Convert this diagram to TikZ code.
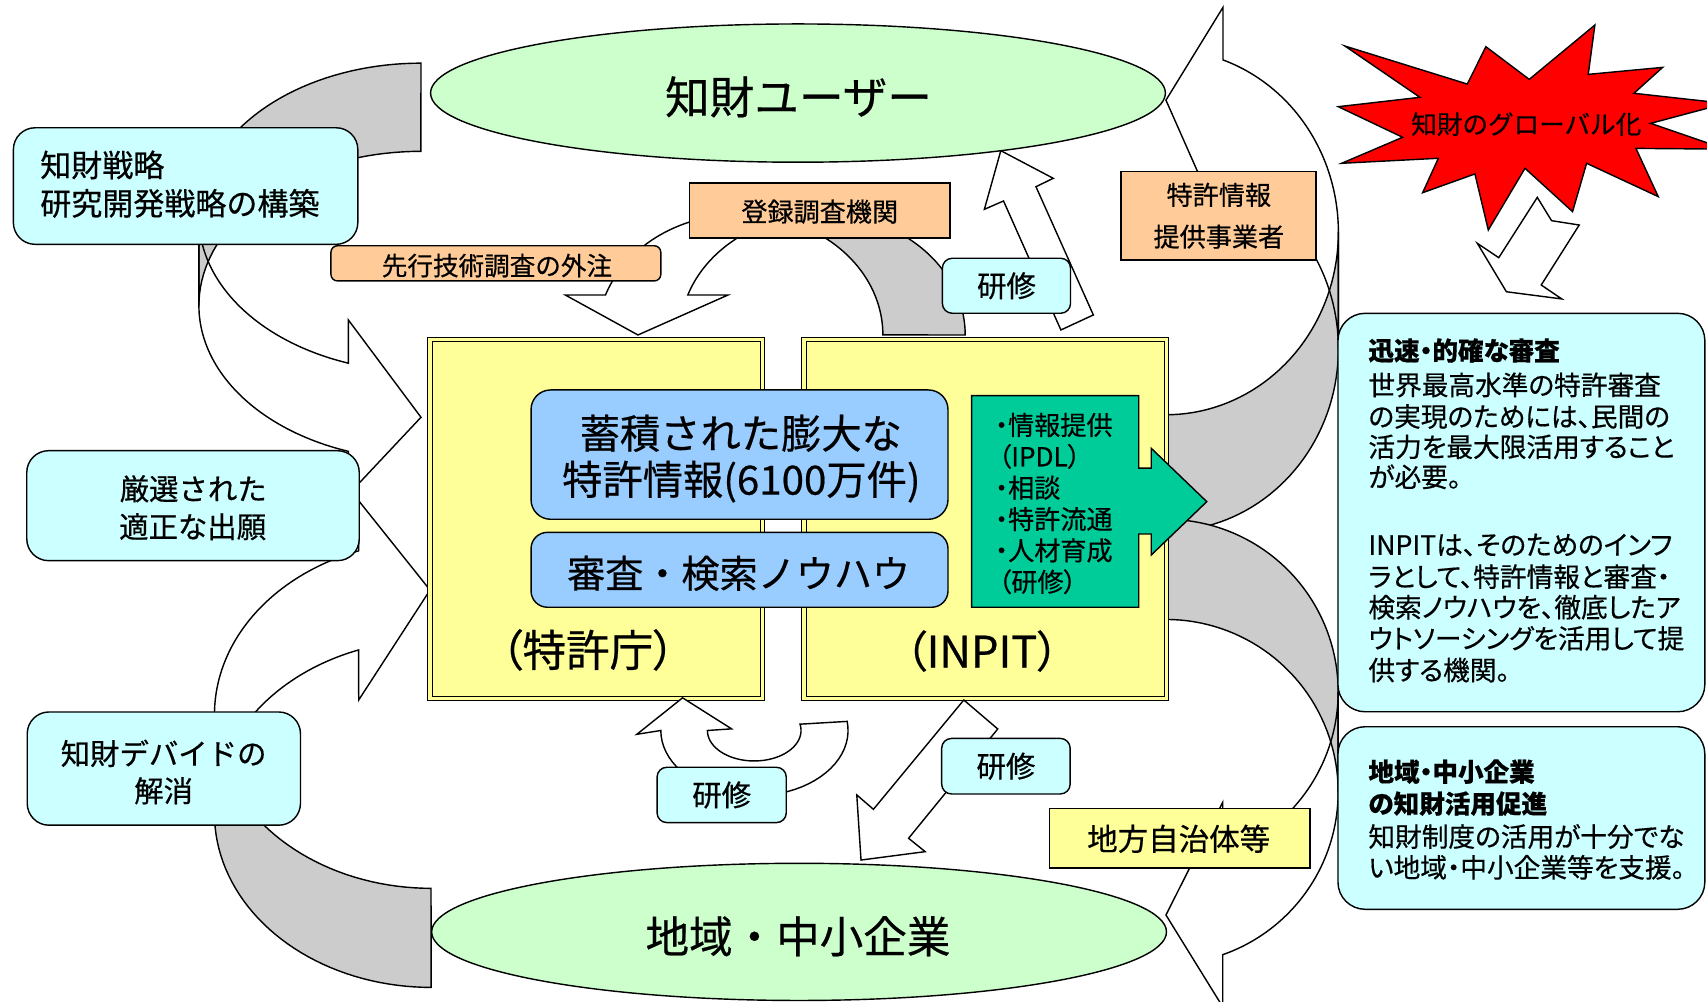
\documentclass[tikz,border=0pt]{standalone}
\usepackage{fontspec}
\setmainfont[FakeBold=0.5]{Noto Sans CJK JP}
\newfontfamily\pf[RawFeature=+palt,FakeBold=0.5]{Noto Sans CJK JP}
\usetikzlibrary{shapes.geometric}
\definecolor{cyanb}{HTML}{CCFFFF}
\definecolor{greenell}{HTML}{CCFFCC}
\definecolor{orangeb}{HTML}{FFCC99}
\definecolor{yellowb}{HTML}{FFFF99}
\definecolor{blueb}{HTML}{99CCFF}
\definecolor{tealb}{HTML}{00CC99}
\definecolor{grayb}{HTML}{CCCCCC}
\definecolor{redb}{HTML}{FF0000}
\tikzset{
 ln/.style={line width=1.3pt},
 tx/.style={inner sep=0pt,outer sep=0pt,font=\fontsize{#1}{#1}\selectfont},
 ptx/.style={inner sep=0pt,outer sep=0pt,font=\pf\fontsize{#1}{#1}\selectfont},
 btx/.style={inner sep=0pt,outer sep=0pt,font=\pf\bfseries\fontsize{#1}{#1}\selectfont},
 cyanbox/.style={draw,ln,fill=cyanb,rounded corners=20pt,inner sep=0pt,outer sep=0pt},
 kbox/.style={draw,ln,fill=cyanb,rounded corners=9pt,inner sep=0pt,outer sep=0pt,font=\fontsize{27}{27}\selectfont},
 orbox/.style={draw,ln,fill=orangeb,inner sep=0pt,outer sep=0pt},
 ylbox/.style={draw,ln,fill=yellowb,inner sep=0pt,outer sep=0pt},
 blbox/.style={draw,ln,fill=blueb,rounded corners=18pt,inner sep=0pt,outer sep=0pt},
 dbox/.style={draw=black,line width=1pt,double=yellowb,double distance=3.2pt,fill=yellowb,inner sep=0pt,outer sep=0pt},
 ell/.style={ellipse,draw,ln,fill=greenell,inner sep=0pt,outer sep=0pt},
 wht/.style={draw,ln,fill=white},
}
% curved ribbon arrow (PowerPoint-like), local coords: back end at origin, band to the left, head pointing right
\newcommand\CAfront[1]{\path[#1] plot[domain=0:1,samples=48] ({\cw*cos(180+(\cphi-180)*\x)},{\chr+\chr*sin(180+(\cphi-180)*\x)}) -- (-\cah,\cyA) -- (\ctx,\cty) -- (-\cah,\cyB) -- plot[domain=0:1,samples=48] ({\cw*cos(\cphi+(180-\cphi)*\x)},{\chr+\cth+\chr*sin(\cphi+(180-\cphi)*\x)}) -- cycle;}
\newcommand\CAback[1]{\path[#1] plot[domain=0:1,samples=40] ({\cw*cos(270-90*\x)},{\chr+\chr*sin(270-90*\x)}) -- plot[domain=0:1,samples=40] ({\cw*cos(180+90*\x)},{\chr+\cth+\chr*sin(180+90*\x)}) -- cycle;}
\newcommand\curvedarrow[8]{%
 \begin{scope}[#1]
 \pgfmathsetmacro\cw{#2}\pgfmathsetmacro\chr{#3}\pgfmathsetmacro\cth{#4}\pgfmathsetmacro\cah{#5}%
 \pgfmathsetmacro\cphi{acos(-#5/#2)}%
 \pgfmathsetmacro\cyA{#3+#3*sin(\cphi)-#6}%
 \pgfmathsetmacro\cyB{#3+#4+#3*sin(\cphi)+#6}%
 \def\ctx{#7}\def\cty{#8}%
 \CAfront{fill=white}
 \CAback{fill=grayb}
 \CAfront{draw,ln}
 \CAback{draw,ln}
 \end{scope}}
\begin{document}
\begin{tikzpicture}[x=1pt,y=-1pt]
\useasboundingbox (0,0) rectangle (1568,920);
% right-side ribbons
\curvedarrow{shift={(1071,488)},xscale=-1,yscale=-1}{158.4}{167.7}{107}{52.4}{48.3}{0}{396}
\curvedarrow{shift={(1071,477)},xscale=-1}{158.2}{158.4}{92}{52.2}{48}{0}{363.5}
% left-side ribbons
\curvedarrow{shift={(386.7,58)}}{204}{141.7}{81}{66.7}{39.7}{0}{325.3}
\curvedarrow{shift={(396,907)},yscale=-1}{199}{159.6}{91}{66.5}{46}{-1}{365}
% central double boxes
\node[dbox,minimum width=305.5pt,minimum height=329.5pt] (jpo) at (547.75,476.75) {};
\node[dbox,minimum width=332.7pt,minimum height=329.5pt] (inpit) at (905.05,476.75) {};
% ribbon from registered search bodies
\curvedarrow{shift={(886.6,307.7)},rotate=-90}{111}{131.1}{75.6}{36.7}{36.9}{0}{300.6}
% U arrow under JPO
\path[wht] (607,671) -- (585,674.5) -- (627,641) -- (672,669.5) -- (649.8,671)
  -- plot[domain=0:1,samples=40] ({692.8+43*cos(180-192*\x)},{671+28*sin(180-192*\x)})
  -- plot[domain=0:1,samples=40] ({693+86*cos(-8+188*\x)},{671+60*sin(-8+188*\x)}) -- cycle;
% straight block arrows
\path[wht] (919.3,138.4) -- (967.5,163.8) -- (951.6,171.5) -- (1004.3,289.3) -- (974.5,303.1) -- (921.8,184.6) -- (904.2,192.3) -- cycle;
\path[wht] (885.3,643) -- (916.5,669.6) -- (910.7,676.7) -- (834.6,770) -- (849.8,782.3) -- (790.9,790) -- (787,730.2) -- (802.3,743.4) -- cycle;
% ellipses
\node[ell,minimum width=675pt,minimum height=127pt] (user) at (733,85.5) {};
\node[tx=41] (usert) at (733.5,89) {知財ユーザー};
\node[ell,minimum width=675pt,minimum height=126pt] (sme) at (734,856) {};
\node[tx=40] (smet) at (733,860) {地域・中小企業};
% left boxes
\node[cyanbox,minimum width=316.4pt,minimum height=107.1pt] (strat) at (170.5,170.9) {};
\node[tx=28.5,anchor=west] (strat1) at (37,151.5) {知財戦略};
\node[tx=28.5,anchor=west] (strat2) at (37,186.8) {研究開発戦略の構築};
\node[cyanbox,minimum width=305.4pt,minimum height=101pt] (gensen) at (177.3,464.5) {};
\node[tx=27] (gensen1) at (177.5,449) {厳選された};
\node[tx=27] (gensen2) at (177,483.8) {適正な出願};
\node[cyanbox,minimum width=251pt,minimum height=104pt] (divide) at (150.5,706) {};
\node[tx=27] (divide1) at (150.3,692) {知財デバイドの};
\node[tx=27] (divide2) at (150.3,726.4) {解消};
% orange boxes
\node[orbox,rounded corners=6pt,minimum width=303pt,minimum height=32.3pt] (senko) at (455.5,241.9) {};
\node[tx=23.5] (senkot) at (456.5,244) {先行技術調査の外注};
\node[orbox,minimum width=239pt,minimum height=50.6pt] (toroku) at (753,193.3) {};
\node[tx=24] (torokut) at (753,194.4) {登録調査機関};
\node[orbox,minimum width=179pt,minimum height=81pt] (pinfo) at (1119.3,198.2) {};
\node[tx=24] (pinfo1) at (1119.6,179) {特許情報};
\node[tx=24] (pinfo2) at (1119.6,217.4) {提供事業者};
% training boxes
\node[kbox,minimum width=117.7pt,minimum height=50.5pt] (k1) at (924.5,262.5) {研修};
\node[kbox,minimum width=118.7pt,minimum height=50.8pt] (k2) at (662.9,730.2) {研修};
\node[kbox,minimum width=118pt,minimum height=51pt] (k3) at (924,703.8) {研修};
\node[ylbox,minimum width=239pt,minimum height=55pt] (chiho) at (1083.7,770) {};
\node[tx=28] (chihot) at (1082.7,770.5) {地方自治体等};
% blue boxes
\node[blbox,minimum width=383pt,minimum height=118.8pt] (acc) at (679.3,417.6) {};
\node[tx=37] (acc1) at (680.5,398) {蓄積された膨大な};
\node[tx=37] (acc2) at (681,442.4) {特許情報(6100万件)};
\node[blbox,rounded corners=15pt,minimum width=383pt,minimum height=68.8pt] (know) at (679.3,523.4) {};
\node[tx=35] (knowt) at (678.5,526.6) {審査・検索ノウハウ};
\node[ptx=40] (jpot) at (540,597) {（特許庁）};
\node[ptx=40] (inpitt) at (902,598) {（INPIT）};
% green box with arrow
\path[draw,ln,fill=tealb] (892.5,363.4) -- (1046,363.4) -- (1046,430) -- (1057.5,430) -- (1057.5,411.8) -- (1108.5,460.8) -- (1057.5,509.8) -- (1057.5,490.5) -- (1046,490.5) -- (1046,557.8) -- (892.5,557.8) -- cycle;
\foreach \yy/\lt/\xx [count=\i] in {390.4/・情報提供/914, 419.2/（IPDL）/917, 448/・相談/914, 476.8/・特許流通/914, 505.6/・人材育成/914, 534.4/（研修）/917}
  \node[ptx=24,anchor=west] (g\i) at (\xx,\yy) {\lt};
% right boxes
\node[cyanbox,rounded corners=25pt,minimum width=337pt,minimum height=366pt] (rb1) at (1397.5,470.8) {};
\node[btx=23.5,anchor=west] (rb1t) at (1257,322) {迅速・的確な審査};
\foreach \yy/\lt [count=\i] in {353.6/世界最高水準の特許審査, 382.6/の実現のためには、民間の, 410.5/活力を最大限活用すること, 438/が必要。, 500.6/INPITは、そのためのインフ, 529.7/ラとして、特許情報と審査・, 557.8/検索ノウハウを、徹底したア, 586.4/ウトソーシングを活用して提, 615.5/供する機関。}
  \node[ptx=24.5,anchor=west] (rb1l\i) at (1257,\yy) {\lt};
\node[cyanbox,rounded corners=25pt,minimum width=337pt,minimum height=167.7pt] (rb2) at (1397.5,751.4) {};
\node[btx=23.5,anchor=west] (rb2t1) at (1257,708.8) {地域・中小企業};
\node[btx=23.5,anchor=west] (rb2t2) at (1257,738.2) {の知財活用促進};
\node[ptx=24.5,anchor=west] (rb2l1) at (1257,768.4) {知財制度の活用が十分でな};
\node[ptx=24.5,anchor=west] (rb2l2) at (1257,796.7) {い地域・中小企業等を支援。};
% star
\path[draw,ln,fill=redb] (1235.4,42.3) -- (1347.8,77.2) -- (1364.9,42.9) -- (1404.7,72.9) -- (1465,23) -- (1458.9,68.3) -- (1527.2,61.9) -- (1500.9,85.7) -- (1585,95) -- (1516.2,113.3) -- (1585,137) -- (1502.7,136.3) -- (1523.2,180.6) -- (1457.4,150) -- (1444.5,194.4) -- (1400.8,154.6) -- (1367.1,211.3) -- (1354.8,159.8) -- (1306.8,177) -- (1321.2,145.4) -- (1232.4,150) -- (1288.4,126.1) -- (1229.3,98) -- (1304.3,89.4) -- cycle;
\node[tx=23.5] (glob) at (1402,114) {知財のグローバル化};
\path[wht] (1412.1,181.3) -- (1425.2,202.7) -- (1450.6,206.7) -- (1415.7,261.8) -- (1434.6,274.6) -- (1383.7,268) -- (1357,223.5) -- (1376.7,236.7) -- cycle;
\end{tikzpicture}
\end{document}
